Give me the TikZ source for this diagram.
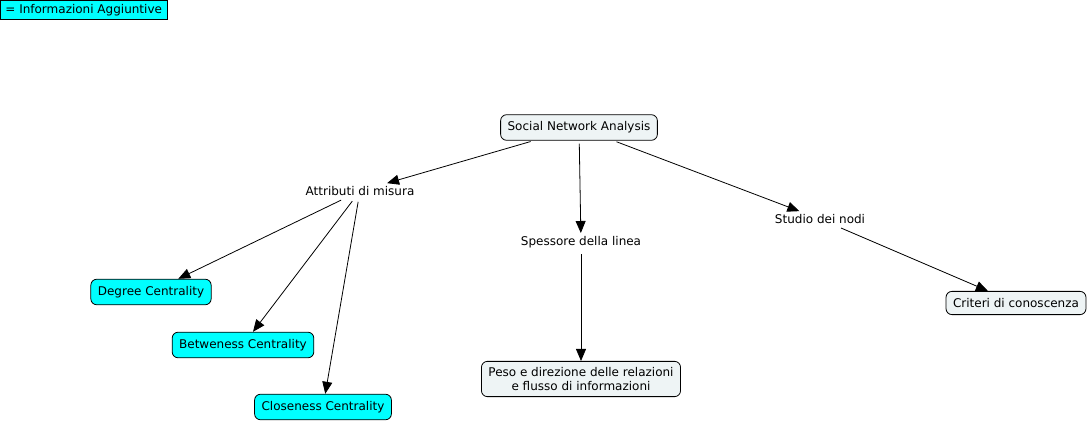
\documentclass[tikz,border=0pt]{standalone}
\usepackage{fontspec}
\setmainfont{DejaVu Sans}
\usepackage{xcolor}
\usetikzlibrary{arrows.meta}
\definecolor{conceptfill}{HTML}{EEF4F5}
\definecolor{infofill}{HTML}{00FFFF}
\tikzset{
  concept/.style={draw,line width=0.8pt,rounded corners=6pt,fill=conceptfill,inner xsep=7pt,inner ysep=7pt,align=center,font=\fontsize{12}{14}\selectfont},
  info/.style={concept,fill=infofill},
  phrase/.style={inner sep=3pt,font=\fontsize{12}{14}\selectfont},
  link/.style={-{Triangle[length=12pt,width=10pt]},line width=0.8pt,shorten <=3pt}
}
\begin{document}
\begin{tikzpicture}[x=1pt,y=-1pt]
    \useasboundingbox (0,0) rectangle (1090,425);
    \node[draw,line width=0.8pt,fill=infofill,inner xsep=5pt,inner ysep=2pt,anchor=north west,font=\fontsize{12}{14}\selectfont,minimum height=19pt] (legend) at (0,0) {= Informazioni Aggiuntive};
    \node[concept] (sna) at (579,127.5) {Social Network Analysis};
    \node[phrase] (attr) at (360,191) {Attributi di misura};
    \node[phrase] (spes) at (581,242) {Spessore della linea};
    \node[phrase] (stud) at (820,219) {Studio dei nodi};
    \node[info] (degree) at (151,292) {Degree Centrality};
    \node[info] (betw) at (243,345) {Betweness Centrality};
    \node[info] (close) at (323,407) {Closeness Centrality};
    \node[concept,inner ysep=6pt] (peso) at (581,379) {Peso e direzione delle relazioni\\e flusso di informazioni};
    \node[concept] (crit) at (1016,303) {Criteri di conoscenza};
    \draw[link] (sna) -- (attr);
    \draw[link] (sna) -- (spes);
    \draw[link] (sna) -- (stud);
    \draw[link] (attr) -- (degree);
    \draw[link] (attr) -- (betw);
    \draw[link] (attr) -- (close);
    \draw[link] (spes) -- (peso);
    \draw[link] (stud) -- (crit);
  \end{tikzpicture}
\end{document}
